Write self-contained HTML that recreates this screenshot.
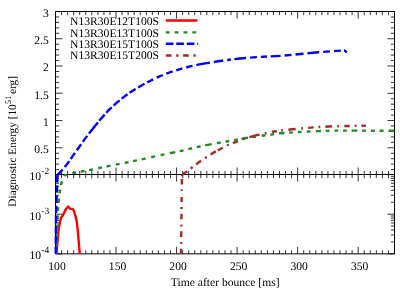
<!DOCTYPE html>
<html><head><meta charset="utf-8"><title>plot</title><style>html,body{margin:0;padding:0;background:#fff}svg{display:block;will-change:transform}text{text-rendering:geometricPrecision;font-family:"Liberation Serif",serif;fill:#000}</style></head><body>
<svg width="415" height="291" viewBox="0 0 415 291">
<rect width="415" height="291" fill="#fff"/>
<path d="M55.50 11.5v7.0M55.50 167.5v14.0M55.50 253.85v-7.0M61.55 11.5v3.6M61.55 170.9v7.2M61.55 253.85v-3.6M67.61 11.5v3.6M67.61 170.9v7.2M67.61 253.85v-3.6M73.66 11.5v3.6M73.66 170.9v7.2M73.66 253.85v-3.6M79.71 11.5v3.6M79.71 170.9v7.2M79.71 253.85v-3.6M85.77 11.5v3.6M85.77 170.9v7.2M85.77 253.85v-3.6M91.82 11.5v3.6M91.82 170.9v7.2M91.82 253.85v-3.6M97.88 11.5v3.6M97.88 170.9v7.2M97.88 253.85v-3.6M103.93 11.5v3.6M103.93 170.9v7.2M103.93 253.85v-3.6M109.98 11.5v3.6M109.98 170.9v7.2M109.98 253.85v-3.6M116.04 11.5v7.0M116.04 167.5v14.0M116.04 253.85v-7.0M122.09 11.5v3.6M122.09 170.9v7.2M122.09 253.85v-3.6M128.14 11.5v3.6M128.14 170.9v7.2M128.14 253.85v-3.6M134.20 11.5v3.6M134.20 170.9v7.2M134.20 253.85v-3.6M140.25 11.5v3.6M140.25 170.9v7.2M140.25 253.85v-3.6M146.30 11.5v3.6M146.30 170.9v7.2M146.30 253.85v-3.6M152.36 11.5v3.6M152.36 170.9v7.2M152.36 253.85v-3.6M158.41 11.5v3.6M158.41 170.9v7.2M158.41 253.85v-3.6M164.46 11.5v3.6M164.46 170.9v7.2M164.46 253.85v-3.6M170.52 11.5v3.6M170.52 170.9v7.2M170.52 253.85v-3.6M176.57 11.5v7.0M176.57 167.5v14.0M176.57 253.85v-7.0M182.62 11.5v3.6M182.62 170.9v7.2M182.62 253.85v-3.6M188.68 11.5v3.6M188.68 170.9v7.2M188.68 253.85v-3.6M194.73 11.5v3.6M194.73 170.9v7.2M194.73 253.85v-3.6M200.79 11.5v3.6M200.79 170.9v7.2M200.79 253.85v-3.6M206.84 11.5v3.6M206.84 170.9v7.2M206.84 253.85v-3.6M212.89 11.5v3.6M212.89 170.9v7.2M212.89 253.85v-3.6M218.95 11.5v3.6M218.95 170.9v7.2M218.95 253.85v-3.6M225.00 11.5v3.6M225.00 170.9v7.2M225.00 253.85v-3.6M231.05 11.5v3.6M231.05 170.9v7.2M231.05 253.85v-3.6M237.11 11.5v7.0M237.11 167.5v14.0M237.11 253.85v-7.0M243.16 11.5v3.6M243.16 170.9v7.2M243.16 253.85v-3.6M249.21 11.5v3.6M249.21 170.9v7.2M249.21 253.85v-3.6M255.27 11.5v3.6M255.27 170.9v7.2M255.27 253.85v-3.6M261.32 11.5v3.6M261.32 170.9v7.2M261.32 253.85v-3.6M267.38 11.5v3.6M267.38 170.9v7.2M267.38 253.85v-3.6M273.43 11.5v3.6M273.43 170.9v7.2M273.43 253.85v-3.6M279.48 11.5v3.6M279.48 170.9v7.2M279.48 253.85v-3.6M285.54 11.5v3.6M285.54 170.9v7.2M285.54 253.85v-3.6M291.59 11.5v3.6M291.59 170.9v7.2M291.59 253.85v-3.6M297.64 11.5v7.0M297.64 167.5v14.0M297.64 253.85v-7.0M303.70 11.5v3.6M303.70 170.9v7.2M303.70 253.85v-3.6M309.75 11.5v3.6M309.75 170.9v7.2M309.75 253.85v-3.6M315.80 11.5v3.6M315.80 170.9v7.2M315.80 253.85v-3.6M321.86 11.5v3.6M321.86 170.9v7.2M321.86 253.85v-3.6M327.91 11.5v3.6M327.91 170.9v7.2M327.91 253.85v-3.6M333.96 11.5v3.6M333.96 170.9v7.2M333.96 253.85v-3.6M340.02 11.5v3.6M340.02 170.9v7.2M340.02 253.85v-3.6M346.07 11.5v3.6M346.07 170.9v7.2M346.07 253.85v-3.6M352.12 11.5v3.6M352.12 170.9v7.2M352.12 253.85v-3.6M358.18 11.5v7.0M358.18 167.5v14.0M358.18 253.85v-7.0M364.23 11.5v3.6M364.23 170.9v7.2M364.23 253.85v-3.6M370.29 11.5v3.6M370.29 170.9v7.2M370.29 253.85v-3.6M376.34 11.5v3.6M376.34 170.9v7.2M376.34 253.85v-3.6M382.39 11.5v3.6M382.39 170.9v7.2M382.39 253.85v-3.6M388.45 11.5v3.6M388.45 170.9v7.2M388.45 253.85v-3.6M394.50 11.5v3.6M394.50 170.9v7.2M394.50 253.85v-3.6M55.5 169.59h3.6M394.5 169.59h-3.6M55.5 164.14h3.6M394.5 164.14h-3.6M55.5 158.69h3.6M394.5 158.69h-3.6M55.5 153.24h3.6M394.5 153.24h-3.6M55.5 147.79h7.0M394.5 147.79h-7.0M55.5 142.34h3.6M394.5 142.34h-3.6M55.5 136.88h3.6M394.5 136.88h-3.6M55.5 131.43h3.6M394.5 131.43h-3.6M55.5 125.98h3.6M394.5 125.98h-3.6M55.5 120.53h7.0M394.5 120.53h-7.0M55.5 115.08h3.6M394.5 115.08h-3.6M55.5 109.63h3.6M394.5 109.63h-3.6M55.5 104.18h3.6M394.5 104.18h-3.6M55.5 98.72h3.6M394.5 98.72h-3.6M55.5 93.27h7.0M394.5 93.27h-7.0M55.5 87.82h3.6M394.5 87.82h-3.6M55.5 82.37h3.6M394.5 82.37h-3.6M55.5 76.92h3.6M394.5 76.92h-3.6M55.5 71.47h3.6M394.5 71.47h-3.6M55.5 66.02h7.0M394.5 66.02h-7.0M55.5 60.56h3.6M394.5 60.56h-3.6M55.5 55.11h3.6M394.5 55.11h-3.6M55.5 49.66h3.6M394.5 49.66h-3.6M55.5 44.21h3.6M394.5 44.21h-3.6M55.5 38.76h7.0M394.5 38.76h-7.0M55.5 33.31h3.6M394.5 33.31h-3.6M55.5 27.85h3.6M394.5 27.85h-3.6M55.5 22.40h3.6M394.5 22.40h-3.6M55.5 16.95h3.6M394.5 16.95h-3.6M55.5 11.50h7.0M394.5 11.50h-7.0M55.5 253.85h7.0M394.5 253.85h-7.0M55.5 241.91h3.6M394.5 241.91h-3.6M55.5 234.92h3.6M394.5 234.92h-3.6M55.5 229.96h3.6M394.5 229.96h-3.6M55.5 226.12h3.6M394.5 226.12h-3.6M55.5 222.98h3.6M394.5 222.98h-3.6M55.5 220.32h3.6M394.5 220.32h-3.6M55.5 218.02h3.6M394.5 218.02h-3.6M55.5 215.99h3.6M394.5 215.99h-3.6M55.5 214.18h7.0M394.5 214.18h-7.0M55.5 202.23h3.6M394.5 202.23h-3.6M55.5 195.25h3.6M394.5 195.25h-3.6M55.5 190.29h3.6M394.5 190.29h-3.6M55.5 186.44h3.6M394.5 186.44h-3.6M55.5 183.30h3.6M394.5 183.30h-3.6M55.5 180.65h3.6M394.5 180.65h-3.6M55.5 178.34h3.6M394.5 178.34h-3.6M55.5 176.32h3.6M394.5 176.32h-3.6" stroke="#000" stroke-width="0.8" fill="none"/>
<path d="M55.5 11.5H394.5V253.85H55.5Z M55.5 174.5H394.5" stroke="#000" stroke-width="1" fill="none"/>
<g fill="none" stroke-width="2.4" stroke-linejoin="round">
<path d="M56.4 253.9 L57.1 245.3 L58.0 236.7 L58.6 230.0 L59.3 225.5 L60.2 220.8 L61.2 217.4 L62.8 215.5 L64.3 212.4 L66.4 208.3 L68.2 206.5 L70.0 208.7 L72.6 208.9 L74.1 211.4 L75.6 216.5 L76.9 222.8 L77.7 229.9 L78.5 238.8 L79.2 247.5 L79.7 253.9" stroke="#ff0000"/>
<path d="M57.0 253.5 L57.3 230.0 L57.9 208.9 L58.8 200.6 L59.8 191.5 L61.4 183.2 L64.5 175.4 L74.2 172.9 L82.9 171.3 L91.1 169.7 L108.5 166.1 L126.6 162.5 L144.0 158.9 L162.0 154.8 L180.1 151.1 L198.9 146.7 L213.4 143.8 L227.8 141.2 L242.3 138.6 L256.8 136.3 L271.2 134.6 L280.0 133.3 L294.5 132.3 L299.7 132.0 L308.9 131.5 L318.4 131.1 L327.6 130.8 L336.3 130.6 L345.1 130.6 L352.3 130.6 L366.8 130.7 L381.2 130.7 L394.3 130.7" stroke="#228b22" stroke-dasharray="3.00 4.90 3.80 4.90 3.80 4.90 3.80 4.90 3.80 4.90 3.81 4.53 3.82 5.33 3.85 4.58 3.98 5.54 3.08 5.89 3.89 4.68 3.87 4.69 3.88 5.31 3.88 4.70 3.88 5.51 3.87 5.20 3.88 4.70 3.88 5.00 3.89 5.74 3.90 5.74 3.89 5.51 5.61 4.49 3.90 4.93 3.90 4.83 3.89 4.69 6.63 5.29 3.86 4.78 3.86 4.98 3.86 3.76 6.48 4.15 3.85 5.74 3.83 4.93 3.84 4.95 5.52 4.61 3.81 4.91 3.81 5.11 3.80 5.40 5.00 4.80 3.80 4.90 3.80 4.90 3.80 4.70 5.70 4.80 3.80 5.10 3.80 4.90 3.80 5.00 5.80 9999.00"/>
<path d="M55.7 253.5 L56.0 215.0 L56.7 195.0 L57.2 182.0 L57.3 176.5 L57.6 174.9 L59.8 172.7 L63.5 168.4 L67.0 164.2 L70.0 160.0 L72.8 155.9 L79.0 147.2 L85.0 138.8 L89.6 132.7 L95.0 125.9 L100.5 119.3 L108.7 110.0 L117.3 102.2 L123.0 97.6 L128.9 93.2 L136.5 88.4 L144.5 83.8 L151.5 80.2 L158.9 76.6 L163.0 74.9 L166.0 73.8 L172.8 71.4 L180.0 69.1 L182.6 68.4 L187.8 67.0 L192.7 65.8 L198.0 64.7 L205.0 63.4 L209.5 62.7 L216.8 61.5 L224.0 60.4 L231.2 59.5 L240.0 58.5 L249.8 57.6 L267.8 56.5 L282.3 55.8 L300.4 54.0 L318.4 52.2 L336.5 50.9 L344.3 50.5 L346.9 52.3" stroke="#0000ff" stroke-dasharray="6.95 2.90 7.30 2.90 7.30 2.90 7.30 2.90 7.30 2.90 7.30 2.90 7.30 2.90 7.60 0.00 7.25 3.41 7.38 2.60 7.50 3.12 7.44 2.94 7.42 2.80 14.37 2.19 8.07 2.57 7.68 2.57 7.95 2.70 7.28 2.46 7.21 3.03 7.27 3.15 6.72 3.78 6.67 3.73 6.68 3.89 6.37 3.94 6.50 3.88 13.82 4.05 9.41 4.03 3.73 3.52 11.76 4.02 6.81 4.01 6.11 3.60 10.01 4.11 6.83 4.02 8.04 4.02 11.76 4.01 6.82 4.11 6.81 3.10 3.46 9999.00"/>
<path d="M181.0 253.5 L181.5 214.0 L181.9 177.5 L182.4 174.4 L187.4 171.3 L191.7 167.7 L198.6 162.5 L205.9 157.5 L213.2 152.9 L220.3 149.0 L227.9 145.0 L235.4 142.1 L242.3 139.4 L249.0 137.3 L256.8 135.2 L265.7 133.2 L274.3 131.5 L282.2 130.4 L292.0 129.3 L301.9 128.4 L310.9 127.6 L319.5 127.0 L328.7 126.5 L338.2 126.2 L347.0 126.0 L355.6 125.8 L366.0 125.6" stroke="#a52a2a" stroke-dasharray="4.80 5.00 1.80 5.00 5.60 4.90 1.60 5.50 5.50 4.80 2.00 5.00 5.10 5.80 1.50 5.20 5.30 2.92 1.62 0.32 5.77 4.43 2.30 4.38 6.16 4.73 2.15 4.37 6.27 2.17 5.68 4.75 1.98 4.40 5.47 5.04 1.89 5.13 10.43 5.43 1.84 5.30 5.17 4.44 1.81 5.33 7.34 5.52 1.81 5.22 5.52 4.81 1.80 5.01 6.91 5.10 1.80 5.20 5.50 4.90 1.80 4.90 4.60 9999.00"/>
<path d="M165.8 20.5H197.4" stroke="#ff0000"/>
<path d="M165.8 32.4H198.1" stroke="#228b22" stroke-dasharray="3.8 5.05"/>
<path d="M165.8 43.7H198.1" stroke="#0000ff" stroke-dasharray="7.6 2.9"/>
<path d="M165.8 55.5H198.1" stroke="#a52a2a" stroke-dasharray="5.7 4.7 2.2 4.7"/>
</g>
<text x="159.0" y="25.2" font-size="11.6" text-anchor="end">N13R30E12T100S</text>
<text x="159.0" y="36.5" font-size="11.6" text-anchor="end">N13R30E13T100S</text>
<text x="159.0" y="47.8" font-size="11.6" text-anchor="end">N13R30E15T100S</text>
<text x="159.0" y="59.1" font-size="11.6" text-anchor="end">N13R30E15T200S</text>
<text x="48.7" y="16.90" font-size="11.6" text-anchor="end">3</text>
<text x="48.7" y="44.16" font-size="11.6" text-anchor="end">2.5</text>
<text x="48.7" y="71.42" font-size="11.6" text-anchor="end">2</text>
<text x="48.7" y="98.67" font-size="11.6" text-anchor="end">1.5</text>
<text x="48.7" y="125.93" font-size="11.6" text-anchor="end">1</text>
<text x="48.7" y="153.19" font-size="11.6" text-anchor="end">0.5</text>
<text x="41.0" y="179.95" font-size="11.6" text-anchor="end">10</text>
<text x="41.3" y="174.05" font-size="9.51">-2</text>
<text x="41.0" y="219.63" font-size="11.6" text-anchor="end">10</text>
<text x="41.3" y="213.73" font-size="9.51">-3</text>
<text x="41.0" y="259.30" font-size="11.6" text-anchor="end">10</text>
<text x="41.3" y="253.40" font-size="9.51">-4</text>
<text x="57.00" y="270.1" font-size="11.6" text-anchor="middle">100</text>
<text x="117.54" y="270.1" font-size="11.6" text-anchor="middle">150</text>
<text x="178.07" y="270.1" font-size="11.6" text-anchor="middle">200</text>
<text x="238.61" y="270.1" font-size="11.6" text-anchor="middle">250</text>
<text x="299.14" y="270.1" font-size="11.6" text-anchor="middle">300</text>
<text x="359.68" y="270.1" font-size="11.6" text-anchor="middle">350</text>
<text x="225.2" y="286" font-size="11.6" text-anchor="middle">Time after bounce [ms]</text>
<text transform="translate(16.3 206.7) rotate(-90)" font-size="11.35">Diagnostic Energy [10<tspan dy="-5.6" font-size="8.51">51</tspan><tspan dy="5.6" dx="-1.2"> erg]</tspan></text>
</svg></body></html>
